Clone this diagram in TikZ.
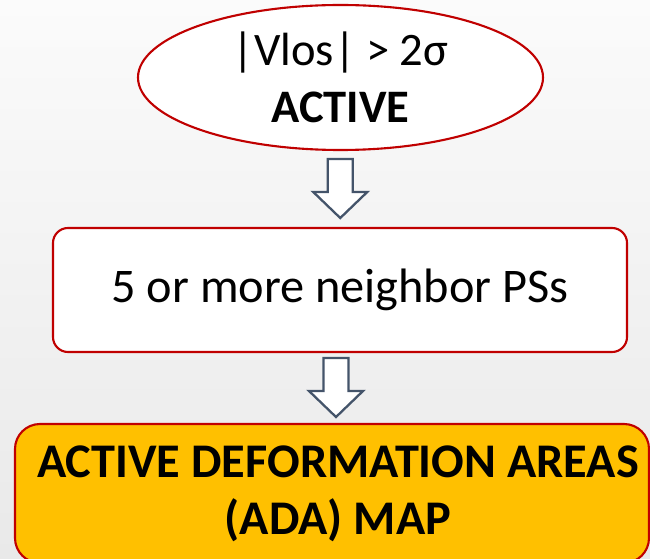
\documentclass[tikz,border=0pt]{standalone}
\usepackage{fontspec}
\setmainfont{Carlito}
\usepackage{tikz}
\usetikzlibrary{calc,shapes.geometric}
\definecolor{outlinered}{RGB}{192,0,0}
\definecolor{adaorange}{RGB}{255,192,0}
\definecolor{arrowslate}{RGB}{68,84,106}
\definecolor{bgtop}{RGB}{251,251,251}
\definecolor{bgbottom}{RGB}{233,233,233}

\begin{document}
\begin{tikzpicture}[
    stepbox/.style={draw=outlinered, line width=1.2pt, fill=white, align=center, inner sep=0pt,
      font=\fontsize{27.5}{32.4}\selectfont},
    blockarrow/.style={draw=arrowslate, line width=1.3pt, fill=white, line join=miter}
]
\useasboundingbox (0,0) rectangle (13,-11.18);
\fill[top color=bgtop, bottom color=bgbottom] (0,0) rectangle (13,-11.18);

\node[stepbox, ellipse, minimum width=8.1cm, minimum height=2.9cm,
  font=\fontsize{26.5}{32.4}\selectfont] (cond) at (6.81,-1.55)
  {|Vlos| > 2σ\\ \textbf{ACTIVE}};
\node[stepbox, rectangle, rounded corners=0.3cm, minimum width=11.48cm, minimum height=2.48cm] (nbr) at (6.8,-5.8)
  {5 or more neighbor PSs};
\node[stepbox, rectangle, rounded corners=0.5cm, fill=adaorange, minimum width=12.68cm, minimum height=2.78cm] (ada) at (6.64,-9.87)
  {\hspace*{6.8pt}\textbf{ACTIVE DEFORMATION AREAS}\\ \hspace*{6.8pt}\textbf{(ADA) MAP}};

% hollow block arrows between the steps
\foreach \a/\b in {cond/nbr, nbr/ada} {
  \coordinate (m) at ($(\a.south)!0.5!(\b.north)$);
  \begin{scope}[shift={(m)}]
    \draw[blockarrow] (-0.25,0.6) -- (0.25,0.6) -- (0.25,-0.06) -- (0.54,-0.06)
      -- (0,-0.58) -- (-0.54,-0.06) -- (-0.25,-0.06) -- cycle;
  \end{scope}
}
\end{tikzpicture}
\end{document}
